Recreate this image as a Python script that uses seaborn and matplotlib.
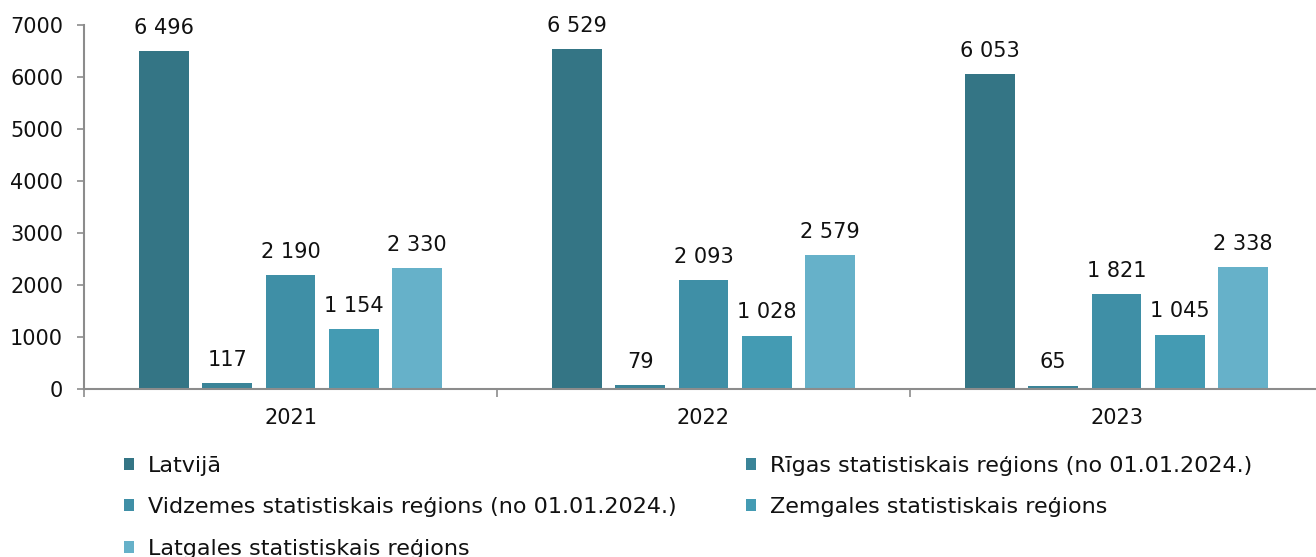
import matplotlib
matplotlib.use("Agg")
import matplotlib.pyplot as plt
import seaborn as sns
import pandas as pd
from matplotlib.patches import Patch

years = ["2021", "2022", "2023"]
series = [
    "Latvijā",
    "Rīgas statistiskais reģions (no 01.01.2024.)",
    "Vidzemes statistiskais reģions (no 01.01.2024.)",
    "Zemgales statistiskais reģions",
    "Latgales statistiskais reģions",
]
latvija = [6496, 6529, 6053]
rigas = [117, 79, 65]
vidzemes = [2190, 2093, 1821]
zemgales = [1154, 1028, 1045]
latgales = [2330, 2579, 2338]
colors = ["#347585", "#3a8498", "#3f8fa6", "#449bb3", "#66b1c9"]
yticks = [0, 1000, 2000, 3000, 4000, 5000, 6000, 7000]

values = [latvija, rigas, vidzemes, zemgales, latgales]
rows = []
for s, vals in zip(series, values):
    for y, v in zip(years, vals):
        rows.append({"year": y, "series": s, "value": v})
df = pd.DataFrame(rows)

sns.set_theme(style="white")
plt.rcParams["font.family"] = ["DejaVu Sans"]
fs = 15
axis_color = "#8c8c8c"

fig = plt.figure(figsize=(13.16, 5.57), dpi=100)
W, H = 1316, 557
ax = fig.add_axes([84 / W, 1 - 389 / H, 1239 / W, 364 / H])

sns.barplot(data=df, x="year", y="value", hue="series", hue_order=series,
            palette=colors, width=0.766, gap=0.21, ax=ax, legend=False,
            saturation=1, edgecolor="none", linewidth=0)

for cont in ax.containers:
    labels = [f"{int(v):,}".replace(",", " ") for v in cont.datavalues]
    ax.bar_label(cont, labels=labels, padding=9.5, fontsize=fs, color="#111111")

ax.set_xlim(-0.5, 2.5)
ax.set_ylim(0, 7000)
ax.set_yticks(yticks)
ax.set_yticklabels([str(t) for t in yticks], fontsize=fs, color="#111111")
ax.set_xlabel("")
ax.set_ylabel("")
ax.set_xticks(range(len(years)))
ax.set_xticklabels(years, fontsize=fs, color="#111111")
ax.set_xticks([-0.5, 0.5, 1.5, 2.5], minor=True)
ax.tick_params(axis="x", which="major", length=0, pad=14)
ax.tick_params(axis="x", which="minor", bottom=True, length=5.5, width=1.2,
               color=axis_color, direction="out")
ax.tick_params(axis="y", which="major", left=True, length=5, width=1.2,
               color=axis_color, pad=10)

for side in ["top", "right"]:
    ax.spines[side].set_visible(False)
for side in ["left", "bottom"]:
    ax.spines[side].set_color(axis_color)
    ax.spines[side].set_linewidth(1.5)

lfs = 16
handles = [Patch(facecolor=c, edgecolor="none") for c in colors]
order = [0, 2, 4, 1, 3]
leg = fig.legend([handles[i] for i in order], [series[i] for i in order],
                 loc="upper left", bbox_to_anchor=(124 / W, 1 - 456 / H),
                 ncol=2, frameon=False, fontsize=lfs,
                 handlelength=0.45, handleheight=0.45, handletextpad=0.63,
                 labelspacing=0.96, columnspacing=3.1, borderaxespad=0,
                 borderpad=0)
for t in leg.get_texts():
    t.set_color("#111111")

fig.savefig("out.png", dpi=100)
